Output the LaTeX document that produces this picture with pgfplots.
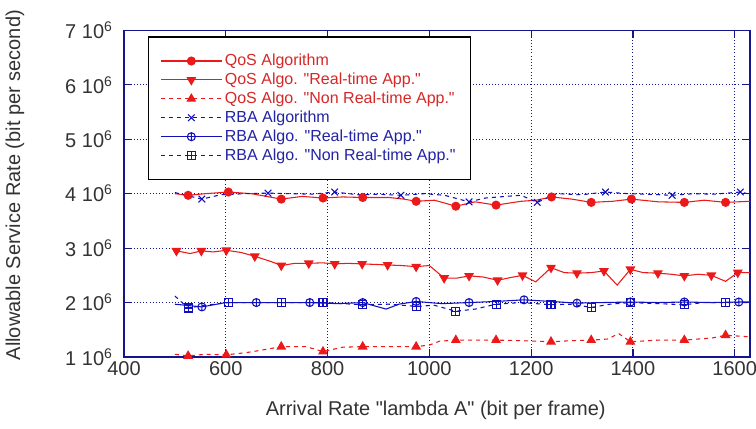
\documentclass[border=0pt]{standalone}
\usepackage{fontspec}
\setmainfont{Liberation Sans}
\usepackage{pgfplots}
\pgfplotsset{compat=1.18}
\usetikzlibrary{plotmarks}

\definecolor{navy}{RGB}{20,20,140}
\definecolor{qred}{RGB}{235,25,25}
\definecolor{rblue}{RGB}{15,15,190}
\definecolor{tred}{RGB}{215,40,40}
\definecolor{tblue}{RGB}{35,35,165}
\newcommand{\q}{\textquotedbl}

% circle with a vertical bar, square with a plus
\pgfdeclareplotmark{obar}{%
  \pgfpathcircle{\pgfpointorigin}{\pgfplotmarksize}%
  \pgfpathmoveto{\pgfpoint{0pt}{\pgfplotmarksize}}%
  \pgfpathlineto{\pgfpoint{0pt}{-\pgfplotmarksize}}%
  \pgfusepathqstroke}
\pgfdeclareplotmark{boxplus}{%
  \pgfpathrectangle{\pgfpoint{-\pgfplotmarksize}{-\pgfplotmarksize}}{\pgfpoint{2\pgfplotmarksize}{2\pgfplotmarksize}}%
  \pgfpathmoveto{\pgfpoint{-\pgfplotmarksize}{0pt}}%
  \pgfpathlineto{\pgfpoint{\pgfplotmarksize}{0pt}}%
  \pgfpathmoveto{\pgfpoint{0pt}{-\pgfplotmarksize}}%
  \pgfpathlineto{\pgfpoint{0pt}{\pgfplotmarksize}}%
  \pgfusepathqstroke}

\begin{document}
\begin{tikzpicture}
\path[use as bounding box] (-93pt,-53.25pt) rectangle (474pt,267.75pt);
\begin{axis}[
    scale only axis,
    width=469.5pt, height=245pt,
    xmin=400, xmax=1630,
    ymin=1, ymax=7,
    xtick={400,600,800,1000,1200,1400,1600},
    xticklabels={400,600,800,1000,1200,1400,1600},
    ytick={1,2,3,4,5,6,7},
    yticklabels={1 10\textsuperscript{6},2 10\textsuperscript{6},3 10\textsuperscript{6},4 10\textsuperscript{6},5 10\textsuperscript{6},6 10\textsuperscript{6},7 10\textsuperscript{6}},
    tick label style={font=\fontsize{15}{18}\selectfont, text=black!80},
    yticklabel style={xshift=-5pt},
    label style={font=\fontsize{15}{18}\selectfont, text=black!80},
    xlabel={Arrival Rate \q lambda A\q{} (bit per frame)},
    ylabel={Allowable Service Rate (bit per second)},
    xlabel style={at={(axis description cs:0.498,-0.162)}, anchor=center},
    ylabel style={at={(axis description cs:-0.174,0.526)}, anchor=center},
    axis line style={navy, line width=0.9pt},
    tick style={navy, line width=0.9pt},
    tick align=inside,
    major tick length=6pt,
    grid=major,
    major grid style={navy, dotted, line width=0.8pt},
    legend cell align=left,
    legend style={at={(axis description cs:0.038,0.982)}, anchor=north west,
        draw=black, line width=1pt, fill=white,
        font=\fontsize{12}{14}\selectfont, inner xsep=9pt, inner ysep=11pt},
    legend image code/.code={\draw[mark repeat=2,mark phase=2] plot coordinates {(0cm,0cm) (0.8cm,0cm) (1.6cm,0cm)};},
]
% QoS Algorithm
\addplot[qred, line width=0.8pt, mark=*, mark size=3pt, mark options={solid},
    mark indices={2,4,7,9,11,14,16,18,21,23,25,27,29}] coordinates {
(500,4.00) (526,3.97) (560,4.00) (605,4.03) (650,4.00) (680,3.95) (709,3.90) (750,3.95)
(791,3.92) (830,3.94) (869,3.93) (920,3.93) (950,3.90) (974,3.86) (1010,3.88) (1052,3.77)
(1090,3.85) (1131,3.79) (1180,3.86) (1210,3.88) (1240,3.94) (1280,3.90) (1318,3.84) (1360,3.86)
(1397,3.90) (1450,3.85) (1501,3.84) (1540,3.88) (1582,3.84) (1630,3.86)
};
\addlegendentry{\textcolor{tred}{QoS Algorithm}}
% QoS real-time
\addplot[qred, line width=0.8pt, mark=triangle*, mark size=3.5pt, mark options={solid, rotate=180},
    mark repeat=2, mark phase=2] coordinates {
(500,2.95) (503,2.95) (530,2.90) (552,2.95) (575,2.93) (601,2.96) (630,2.92) (657,2.85)
(690,2.75) (709,2.68) (735,2.72) (763,2.72) (790,2.73) (814,2.71) (840,2.72) (868,2.71)
(895,2.70) (918,2.69) (945,2.68) (974,2.66) (1000,2.68) (1029,2.45) (1055,2.45) (1078,2.49)
(1105,2.47) (1134,2.41) (1160,2.46) (1183,2.50) (1209,2.38) (1239,2.64) (1265,2.55) (1290,2.54)
(1318,2.55) (1343,2.58) (1369,2.32) (1395,2.61) (1420,2.55) (1449,2.54) (1475,2.52) (1501,2.49)
(1528,2.52) (1554,2.50) (1582,2.39) (1606,2.55) (1630,2.55)
};
\addlegendentry{\textcolor{tred}{QoS Algo. \q Real-time App.\q}}
% QoS non real-time
\addplot[qred, line width=0.8pt, dashed, mark=triangle*, mark size=3.5pt, mark options={solid},
    mark indices={2,4,7,9,11,13,16,18,20,22,25,27,29}] coordinates {
(500,1.05) (526,1.02) (560,1.05) (601,1.04) (640,1.08) (673,1.13) (709,1.19) (758,1.19)
(791,1.10) (830,1.18) (869,1.19) (920,1.19) (974,1.19) (1000,1.22) (1020,1.29) (1052,1.31)
(1090,1.31) (1131,1.31) (1180,1.30) (1239,1.28) (1280,1.30) (1318,1.31) (1350,1.33) (1372,1.43)
(1395,1.28) (1450,1.31) (1501,1.31) (1556,1.35) (1582,1.40) (1630,1.37)
};
\addlegendentry{\textcolor{tred}{QoS Algo. \q Non Real-time App.\q}}
% RBA Algorithm
\addplot[rblue, line width=0.8pt, dashed, mark=x, mark size=3.5pt, mark options={solid},
    mark indices={2,5,8,11,14,18,21,24,27}] coordinates {
(500,4.02) (553,3.90) (590,3.98) (640,4.00) (683,4.01) (730,4.00) (770,3.99) (814,4.03)
(860,3.98) (900,3.99) (944,3.97) (990,4.00) (1030,3.97) (1078,3.85) (1110,3.92) (1150,3.95)
(1180,3.97) (1212,3.84) (1250,4.00) (1300,3.98) (1346,4.03) (1390,4.00) (1430,3.99) (1477,3.97)
(1520,4.00) (1560,3.99) (1611,4.03) (1630,3.99)
};
\addlegendentry{\textcolor{tblue}{RBA Algorithm}}
% RBA real-time
\addplot[rblue, line width=0.8pt, mark=obar, mark size=3pt, mark options={solid},
    mark indices={2,4,6,8,11,13,15,17,19,21,23}] coordinates {
(500,1.97) (553,1.92) (600,2.00) (660,2.00) (710,2.00) (765,2.00) (820,1.98) (869,2.00)
(915,1.88) (940,1.97) (974,2.02) (1025,1.98) (1078,2.00) (1130,2.02) (1186,2.05) (1240,2.02)
(1290,1.99) (1340,2.00) (1395,2.01) (1450,2.00) (1501,2.01) (1555,2.00) (1608,2.01) (1630,2.01)
};
\addlegendentry{\textcolor{tblue}{RBA Algo. \q Real-time App.\q}}
% RBA non real-time
\addplot[rblue, line width=0.8pt, dashed, mark=boxplus, mark size=3pt, mark options={solid},
    mark repeat=2, mark phase=2] coordinates {
(500,2.12) (526,1.90) (560,1.95) (605,2.00) (650,2.00) (709,2.00) (750,2.00) (791,2.00)
(830,1.98) (869,1.96) (920,1.97) (974,1.93) (1010,1.95) (1052,1.84) (1090,1.88) (1131,1.97)
(1180,2.00) (1239,1.96) (1280,1.97) (1318,1.91) (1355,1.97) (1395,2.00) (1450,1.98) (1501,1.96)
(1540,2.00) (1582,2.00) (1630,2.00)
};
\addlegendentry{\textcolor{tblue}{RBA Algo. \q Non Real-time App.\q}}
\end{axis}
\end{tikzpicture}
\end{document}
